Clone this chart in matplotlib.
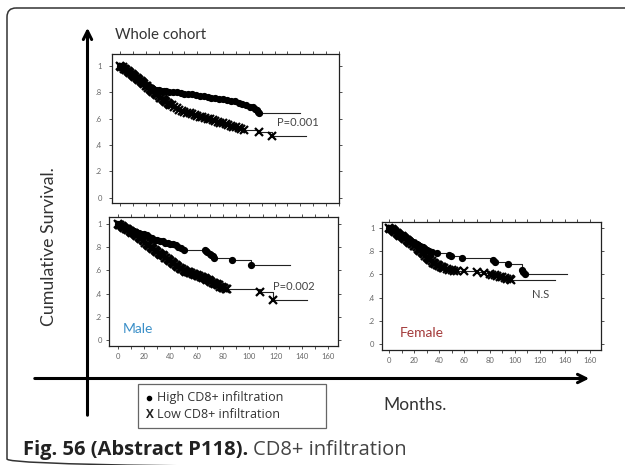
import matplotlib
matplotlib.use("Agg")
import matplotlib.pyplot as plt
from matplotlib.patches import FancyBboxPatch
from matplotlib.ticker import MultipleLocator, FixedLocator

plt.rcParams['font.family'] = ['Lato', 'DejaVu Sans']

# ------------------------------------------------------------
# data: Kaplan-Meier points (months, cumulative survival)
# ------------------------------------------------------------
x_ticks = [0, 20, 40, 60, 80, 100, 120, 140, 160]
y_ticks = [0, 0.2, 0.4, 0.6, 0.8, 1.0]
y_labels = ["0", ".2", ".4", ".6", ".8", "1"]

# whole cohort
high_all = [(0, 1.0), (1, .995), (2, .99), (3, .985), (4, .975), (5, .97), (6, .96), (7, .955),
            (8, .945), (9, .94), (10, .93), (11, .925), (12, .915), (13, .91), (14, .90), (15, .895),
            (16, .885), (17, .88), (18, .87), (19, .865), (20, .855), (21, .85), (22, .845), (23, .84),
            (24, .835), (25, .83), (26, .825), (28, .82), (30, .815), (32, .812), (34, .81), (36, .808),
            (38, .805), (41, .80), (44, .80), (47, .795), (50, .79), (53, .79), (56, .785), (59, .78),
            (62, .775), (65, .77), (68, .765), (71, .76), (74, .755), (77, .75), (80, .745), (83, .74),
            (86, .735), (89, .73), (92, .72), (95, .71), (98, .70), (101, .69), (103, .685), (105, .675),
            (106, .665), (107, .65), (108, .64)]
high_all_end = 140
low_all = [(0, 1.0), (1, .995), (2, .99), (3, .98), (4, .975), (5, .965), (6, .96), (7, .955),
           (8, .945), (9, .94), (10, .93), (11, .925), (12, .915), (13, .91), (14, .90), (15, .89),
           (16, .885), (17, .875), (18, .87), (19, .86), (20, .85), (21, .845), (22, .835), (23, .825),
           (24, .82), (25, .81), (26, .80), (27, .795), (28, .785), (29, .78), (30, .77), (31, .76),
           (32, .755), (33, .745), (34, .74), (35, .73), (36, .725), (37, .72), (38, .71), (39, .705),
           (40, .70), (42, .69), (44, .68), (46, .665), (48, .66), (50, .65), (52, .645), (54, .64),
           (56, .635), (58, .625), (60, .62), (62, .615), (64, .61), (66, .605), (68, .60), (70, .595),
           (72, .59), (74, .585), (76, .575), (78, .57), (80, .565), (82, .56), (84, .55), (86, .545),
           (88, .54), (90, .535), (92, .53), (94, .52), (96, .515), (108, .495), (118, .47)]
low_all_end = 144

# male
high_male = [(0, 1.0), (1, .995), (2, .99), (3, .985), (4, .98), (5, .975), (6, .97), (7, .965),
             (8, .96), (9, .955), (10, .95), (12, .94), (14, .93), (16, .925), (18, .915), (20, .91),
             (22, .905), (24, .89), (26, .875), (28, .865), (30, .86), (32, .855), (34, .85), (36, .84),
             (38, .835), (40, .83), (42, .825), (44, .82), (46, .80), (48, .79), (50, .78), (66, .775),
             (67, .765), (68, .755), (70, .745), (71, .735), (72, .72), (73, .71), (87, .69), (101, .65)]
high_male_end = 131
low_male = [(0, 1.0), (1, .995), (2, .99), (3, .98), (4, .975), (5, .965), (6, .96), (7, .955),
            (8, .945), (9, .94), (10, .93), (11, .925), (12, .92), (13, .91), (14, .905), (15, .895),
            (16, .885), (17, .88), (18, .87), (19, .86), (20, .85), (21, .84), (22, .83), (23, .82),
            (24, .81), (25, .80), (26, .79), (27, .785), (28, .775), (29, .77), (30, .76), (31, .75),
            (32, .745), (33, .735), (34, .73), (35, .72), (36, .71), (37, .705), (38, .695), (39, .69),
            (40, .68), (41, .67), (42, .665), (43, .655), (44, .65), (45, .64), (46, .63), (47, .62),
            (48, .615), (49, .61), (50, .60), (51, .595), (52, .59), (53, .585), (54, .585), (55, .58),
            (56, .575), (57, .57), (58, .565), (59, .56), (60, .56), (61, .555), (62, .55), (63, .545),
            (64, .54), (65, .535), (66, .53), (67, .525), (68, .52), (69, .515), (70, .51), (71, .50),
            (72, .495), (73, .49), (74, .485), (75, .48), (76, .475), (77, .47), (78, .46), (79, .455),
            (80, .45), (81, .445), (82, .44), (83, .44), (108, .41), (118, .34)]
low_male_end = 144

# female
high_female = [(0, 1.0), (1, .995), (2, .99), (3, .985), (4, .98), (5, .975), (6, .965), (7, .96),
               (8, .955), (9, .945), (10, .94), (11, .935), (12, .925), (13, .92), (14, .91), (15, .905),
               (16, .895), (17, .89), (18, .88), (19, .875), (20, .865), (21, .86), (22, .855), (23, .85),
               (24, .845), (25, .84), (26, .835), (27, .83), (28, .825), (29, .82), (30, .81), (32, .80),
               (34, .79), (38, .78), (48, .765), (49, .755), (58, .74), (83, .72), (84, .705), (95, .685),
               (106, .64), (107, .62), (108, .60)]
high_female_end = 142
low_female = [(0, 1.0), (1, .99), (2, .985), (3, .975), (4, .97), (5, .96), (6, .955), (7, .945),
              (8, .94), (9, .93), (10, .925), (11, .915), (12, .91), (13, .90), (14, .895), (15, .885),
              (16, .88), (17, .87), (18, .86), (19, .855), (20, .845), (21, .84), (22, .83), (23, .82),
              (24, .81), (25, .80), (26, .79), (27, .78), (28, .77), (29, .76), (30, .75), (31, .74),
              (32, .73), (33, .72), (34, .71), (35, .70), (36, .695), (37, .685), (38, .68), (39, .675),
              (40, .67), (41, .665), (42, .66), (43, .655), (44, .65), (46, .645), (48, .64), (50, .635),
              (52, .63), (54, .63), (60, .625), (70, .62), (76, .61), (80, .60), (82, .595), (84, .59),
              (86, .585), (88, .58), (90, .575), (92, .57), (94, .56), (96, .555), (97, .55)]
low_female_end = 132

W, H = 625, 465
fig = plt.figure(figsize=(W / 100, H / 100), dpi=100)
fig.patch.set_facecolor('white')


def px_axes(x0, y0, x1, y1):
    # axes rectangle given in pixel corners (top-left origin)
    return fig.add_axes([x0 / W, 1 - y1 / H, (x1 - x0) / W, (y1 - y0) / H])


def km(ax, pts, end, marker):
    t = [p[0] for p in pts] + [end]
    s = [p[1] for p in pts] + [pts[-1][1]]
    ax.plot(t, s, drawstyle='steps-post', color='#222', lw=0.8, zorder=2)
    if marker == 'o':
        ax.plot(t[:-1], s[:-1], ls='none', marker='o', ms=4.2, color='k', zorder=3)
    else:
        ax.plot(t[:-1], s[:-1], ls='none', marker='x', ms=5.5, mew=1.6, color='k', zorder=3)


def style(ax, xlim, ylim, xlabels=True, ypad=3):
    ax.set_xlim(*xlim)
    ax.set_ylim(*ylim)
    ax.xaxis.set_major_locator(FixedLocator(x_ticks))
    ax.xaxis.set_minor_locator(MultipleLocator(10))
    ax.yaxis.set_major_locator(FixedLocator(y_ticks))
    ax.set_yticklabels(y_labels)
    if xlabels:
        ax.set_xticklabels([str(v) for v in x_ticks])
    else:
        ax.set_xticklabels([])
    ax.tick_params(which='both', direction='out', top=True, right=True,
                   length=2.2, width=0.6, color='#333', labelsize=5.5, labelcolor='#666')
    ax.tick_params(axis='y', pad=ypad)
    ax.tick_params(axis='x', pad=3)
    for sp in ax.spines.values():
        sp.set_linewidth(0.9)
        sp.set_color('#222')


# ---- whole cohort ----
ax1 = px_axes(112, 54, 339, 203)
km(ax1, high_all, high_all_end, 'o')
km(ax1, low_all, low_all_end, 'x')
style(ax1, (-6.2, 170), (-0.04, 1.09), xlabels=False, ypad=5)
ax1.text(121.7, 0.57, "P=0.001", fontsize=8, color='#444', va='center')

# ---- male ----
ax2 = px_axes(109.3, 216.7, 337.7, 345.7)
km(ax2, high_male, high_male_end, 'o')
km(ax2, low_male, low_male_end, 'x')
style(ax2, (-6.4, 167), (-0.05, 1.063))
ax2.text(118, 0.465, "P=0.002", fontsize=8, color='#444', va='center')
ax2.text(4, 0.095, "Male", fontsize=10, color='#3a8fc8', va='center')

# ---- female ----
ax3 = px_axes(381.7, 221.7, 600.7, 350)
km(ax3, high_female, high_female_end, 'o')
km(ax3, low_female, low_female_end, 'x')
style(ax3, (-5.8, 168.5), (-0.049, 1.05))
ax3.text(113.6, 0.43, "N.S", fontsize=8, color='#444', va='center')
ax3.text(8.8, 0.10, "Female", fontsize=10, color='#a33a3a', va='center')

# ---- overlay: frame, arrows, labels, legend, caption ----
ov = fig.add_axes([0, 0, 1, 1], zorder=-1)
ov.set_xlim(0, W)
ov.set_ylim(H, 0)
ov.axis('off')

ov.add_patch(FancyBboxPatch((7, 8), 640, 460, boxstyle="round,pad=0,rounding_size=9",
                            fill=False, ec='#333', lw=1.1))

ov.annotate("", xy=(87.5, 25), xytext=(87.5, 418),
            arrowprops=dict(arrowstyle="->,head_length=0.6,head_width=0.3", lw=2.2, color='k'))
ov.annotate("", xy=(592, 378.5), xytext=(32, 378.5),
            arrowprops=dict(arrowstyle="->,head_length=0.6,head_width=0.3", lw=2.2, color='k'))

ov.text(115, 35, "Whole cohort", fontsize=10.8, color='#333', va='center')
ov.text(49, 246.5, "Cumulative Survival.", fontsize=12.8, color='#333', rotation=90,
        ha='center', va='center')
ov.text(383, 405, "Months.", fontsize=12.5, color='#333', va='center')

ov.add_patch(plt.Rectangle((137.7, 384), 188.3, 43.5, fill=False, ec='#666', lw=0.9))
ov.plot([149], [397.7], ls='none', marker='o', ms=3, color='k')
ov.text(156.7, 397.7, "High CD8+ infiltration", fontsize=9, color='#333', va='center',
        family=['Open Sans', 'DejaVu Sans'])
ov.text(146, 414, "X", fontsize=8.5, color='#222', va='center', fontweight='bold',
        family=['Open Sans', 'DejaVu Sans'])
ov.text(156.7, 414, "Low CD8+ infiltration", fontsize=9, color='#333', va='center',
        family=['Open Sans', 'DejaVu Sans'])

cap1 = ov.text(23, 450, "Fig. 56 (Abstract P118).", fontsize=14.5, color='#222',
               va='center', fontweight='bold', family=['Open Sans', 'DejaVu Sans'])
fig.canvas.draw()
bb = cap1.get_window_extent(renderer=fig.canvas.get_renderer())
ov.text(bb.x1 + 5, 450, "CD8+ infiltration", fontsize=14.5, color='#444', va='center',
        family=['Open Sans', 'DejaVu Sans'])

fig.savefig("out.png", dpi=100)
